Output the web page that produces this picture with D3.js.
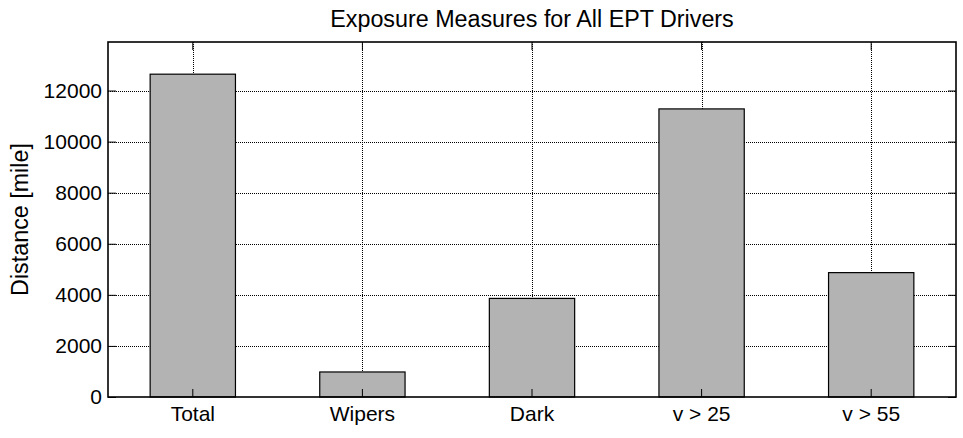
<!DOCTYPE html>
<html>
<head>
<meta charset="utf-8">
<script src="https://cdn.jsdelivr.net/npm/d3@7"></script>
<style>
  html, body { margin: 0; padding: 0; background: #fff; }
  svg { display: block; font-family: "Liberation Sans", Arial, Helvetica, sans-serif; }
</style>
</head>
<body>
<svg id="chart" width="963" height="438"></svg>
<script>
// Exposure distances per condition
const categories = ["Total", "Wipers", "Dark", "v > 25", "v > 55"];
const distances = [12640, 980, 3860, 11280, 4870];
const yTicks = [0, 2000, 4000, 6000, 8000, 10000, 12000];
const yMax = 13900;

const width = 963, height = 438;
const margin = { top: 42, right: 7, bottom: 41, left: 108 };
const innerW = width - margin.left - margin.right;
const innerH = height - margin.top - margin.bottom;
const tickFont = 21, labelFont = 23.3;

const svg = d3.select("#chart");
const g = svg.append("g").attr("transform", `translate(${margin.left},${margin.top})`);

const x = d3.scaleBand().domain(categories).range([0, innerW]).paddingInner(0).paddingOuter(0);
const y = d3.scaleLinear().domain([0, yMax]).range([innerH, 0]);
const barW = x.bandwidth() * 0.503;

// Dotted grid lines
const grid = g.append("g").attr("stroke", "#000").attr("stroke-width", 1).attr("stroke-dasharray", "1,1").attr("shape-rendering", "crispEdges");
grid.selectAll("line.h").data(yTicks.filter(d => d > 0)).join("line")
  .attr("x1", 0).attr("x2", innerW)
  .attr("y1", d => Math.round(y(d)) + 0.5).attr("y2", d => Math.round(y(d)) + 0.5);
grid.selectAll("line.v").data(categories).join("line")
  .attr("y1", 0).attr("y2", innerH)
  .attr("x1", d => Math.round(x(d) + x.bandwidth() / 2) + 0.5)
  .attr("x2", d => Math.round(x(d) + x.bandwidth() / 2) + 0.5);

// Bars
g.selectAll("rect.bar").data(categories).join("rect")
  .attr("class", "bar")
  .attr("x", (d) => x(d) + x.bandwidth() / 2 - barW / 2)
  .attr("width", barW)
  .attr("y", (d, i) => y(distances[i]))
  .attr("height", (d, i) => innerH - y(distances[i]))
  .attr("fill", "#b3b3b3")
  .attr("stroke", "#000")
  .attr("stroke-width", 1.2);

// Axes with inward ticks on all four sides
const tickLen = 8;
const axisLeft = g.append("g").call(d3.axisLeft(y).tickValues(yTicks).tickFormat(d3.format("d")).tickSizeInner(-tickLen).tickSizeOuter(0).tickPadding(6));
const axisRight = g.append("g").attr("transform", `translate(${innerW},0)`).call(d3.axisRight(y).tickValues(yTicks).tickSizeInner(-tickLen).tickSizeOuter(0).tickFormat(""));
const axisBottom = g.append("g").attr("transform", `translate(0,${innerH})`).call(d3.axisBottom(x).tickSizeInner(-tickLen).tickSizeOuter(0).tickPadding(9));
const axisTop = g.append("g").call(d3.axisTop(x).tickSizeInner(-tickLen).tickSizeOuter(0).tickFormat(""));

[axisLeft, axisRight, axisBottom, axisTop].forEach(a => {
  a.attr("font-size", null).attr("font-family", null);
  a.select(".domain").remove();
  a.selectAll(".tick line").attr("stroke", "#000").attr("stroke-width", 1);
  a.selectAll(".tick text").attr("fill", "#000").attr("font-size", tickFont);
});

// Plot box
g.append("rect").attr("x", 0).attr("y", 0).attr("width", innerW).attr("height", innerH)
  .attr("fill", "none").attr("stroke", "#000").attr("stroke-width", 1.6);

// Title and axis label
svg.append("text")
  .attr("x", margin.left + innerW / 2).attr("y", 27)
  .attr("text-anchor", "middle").attr("font-size", labelFont).attr("fill", "#000")
  .text("Exposure Measures for All EPT Drivers");
svg.append("text")
  .attr("transform", `translate(28,${margin.top + innerH / 2}) rotate(-90)`)
  .attr("text-anchor", "middle").attr("font-size", labelFont).attr("fill", "#000")
  .text("Distance [mile]");
</script>
</body>
</html>
